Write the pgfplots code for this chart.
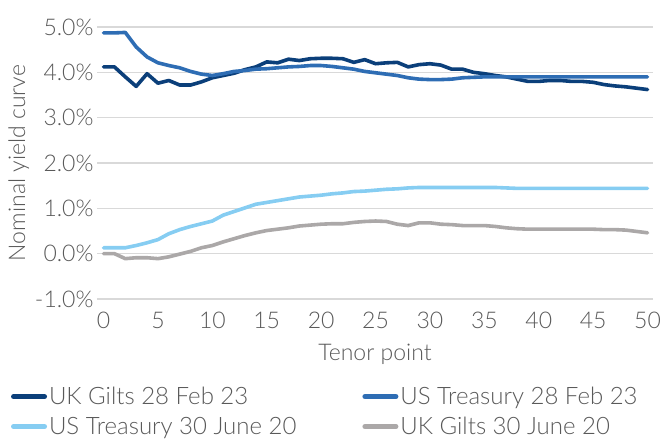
\documentclass[border=0pt]{standalone}
\usepackage{fontspec}
\IfFontExistsTF{Lato Light}{\setmainfont{Lato Light}}{\setmainfont{Lato}}
\usepackage{pgfplots}
\pgfplotsset{compat=1.18}
\definecolor{ukfeb}{HTML}{0B3F7A}
\definecolor{usfeb}{HTML}{2E6DB4}
\definecolor{usjun}{HTML}{86CDF2}
\definecolor{ukjun}{HTML}{ABA8A8}
\definecolor{txt}{HTML}{595959}
\definecolor{gridc}{HTML}{D9D9D9}
\begin{document}
\begin{tikzpicture}
\begin{axis}[
    width=556pt, height=272pt, scale only axis,
    xmin=-0.6, xmax=50.5,
    ymin=-1, ymax=5,
    xtick={0,5,...,50},
    ytick={-1,0,1,2,3,4,5},
    yticklabel={\pgfmathprintnumber[fixed,fixed zerofill,precision=1]{\tick}\%},
    /pgf/number format/assume math mode=true,
    ymajorgrids=true,
    grid style={gridc, line width=1.5pt},
    axis line style={draw=none},
    tick style={draw=none},
    ticklabel style={font=\fontsize{23}{27}\selectfont, text=txt},
    xticklabel style={yshift=-10pt},
    xlabel={Tenor point},
    ylabel={Nominal yield curve},
    label style={font=\fontsize{23}{27}\selectfont, text=txt},
    xlabel style={yshift=-8pt},
    ylabel style={yshift=-1pt},
    legend columns=2,
    legend cell align=left,
    legend style={draw=none, fill=none, inner sep=0pt, at={(rel axis cs:-0.155,-0.316)}, anchor=north west,
        font=\fontsize{24}{28}\selectfont, text=txt, row sep=7pt,
        /tikz/every even column/.append style={column sep=64pt}},
    legend image code/.code={\draw[#1, line width=5pt, line cap=round] (2pt,0pt) -- (33pt,0pt);},
    every axis plot/.append style={line width=3.6pt, line join=round, line cap=round, mark=none},
]
\addplot[ukfeb] coordinates {
(0,4.12)(1,4.12)(2,3.90)(3,3.69)(4,3.97)(5,3.76)(6,3.82)(7,3.72)(8,3.72)(9,3.79)
(10,3.88)(11,3.93)(12,3.98)(13,4.06)(14,4.12)(15,4.23)(16,4.21)(17,4.29)(18,4.26)(19,4.30)
(20,4.31)(21,4.31)(22,4.30)(23,4.22)(24,4.28)(25,4.19)(26,4.21)(27,4.22)(28,4.12)(29,4.17)
(30,4.19)(31,4.16)(32,4.07)(33,4.07)(34,4.00)(35,3.97)(36,3.93)(37,3.90)(38,3.85)(39,3.80)
(40,3.80)(41,3.82)(42,3.82)(43,3.80)(44,3.80)(45,3.78)(46,3.73)(47,3.70)(48,3.68)(49,3.65)(50,3.62)
};
\addlegendentry{UK Gilts 28 Feb 23}
\addplot[usfeb] coordinates {
(0,4.87)(1,4.87)(2,4.88)(3,4.56)(4,4.34)(5,4.21)(6,4.15)(7,4.10)(8,4.02)(9,3.96)
(10,3.93)(11,3.97)(12,4.02)(13,4.04)(14,4.07)(15,4.08)(16,4.10)(17,4.12)(18,4.13)(19,4.15)
(20,4.15)(21,4.13)(22,4.10)(23,4.07)(24,4.02)(25,3.99)(26,3.96)(27,3.93)(28,3.88)(29,3.85)
(30,3.84)(31,3.84)(32,3.85)(33,3.88)(34,3.89)(35,3.90)(36,3.90)(37,3.90)(38,3.90)(39,3.90)
(40,3.90)(41,3.90)(42,3.90)(43,3.90)(44,3.90)(45,3.90)(46,3.90)(47,3.90)(48,3.90)(49,3.90)(50,3.90)
};
\addlegendentry{US Treasury 28 Feb 23}
\addplot[usjun] coordinates {
(0,0.13)(1,0.13)(2,0.13)(3,0.18)(4,0.24)(5,0.31)(6,0.44)(7,0.53)(8,0.60)(9,0.66)
(10,0.72)(11,0.85)(12,0.93)(13,1.01)(14,1.09)(15,1.13)(16,1.17)(17,1.21)(18,1.25)(19,1.27)
(20,1.29)(21,1.32)(22,1.34)(23,1.37)(24,1.38)(25,1.40)(26,1.42)(27,1.43)(28,1.45)(29,1.46)
(30,1.46)(31,1.46)(32,1.46)(33,1.46)(34,1.46)(35,1.46)(36,1.46)(37,1.45)(38,1.44)(39,1.44)
(40,1.44)(41,1.44)(42,1.44)(43,1.44)(44,1.44)(45,1.44)(46,1.44)(47,1.44)(48,1.44)(49,1.44)(50,1.44)
};
\addlegendentry{US Treasury 30 June 20}
\addplot[ukjun] coordinates {
(0,0.00)(1,0.00)(2,-0.11)(3,-0.09)(4,-0.09)(5,-0.11)(6,-0.07)(7,-0.01)(8,0.05)(9,0.13)
(10,0.18)(11,0.26)(12,0.33)(13,0.40)(14,0.46)(15,0.51)(16,0.54)(17,0.57)(18,0.61)(19,0.63)
(20,0.65)(21,0.66)(22,0.66)(23,0.69)(24,0.71)(25,0.72)(26,0.71)(27,0.65)(28,0.62)(29,0.68)
(30,0.68)(31,0.65)(32,0.64)(33,0.62)(34,0.62)(35,0.62)(36,0.60)(37,0.57)(38,0.55)(39,0.54)
(40,0.54)(41,0.54)(42,0.54)(43,0.54)(44,0.54)(45,0.54)(46,0.53)(47,0.53)(48,0.52)(49,0.49)(50,0.46)
};
\addlegendentry{UK Gilts 30 June 20}
\coordinate (bbsw) at (rel axis cs:-0.1745,-0.5294);
\coordinate (bbne) at (rel axis cs:1.027,1.0993);
\end{axis}
\pgfresetboundingbox
\path[use as bounding box] (bbsw) rectangle (bbne);
\end{tikzpicture}
\end{document}
